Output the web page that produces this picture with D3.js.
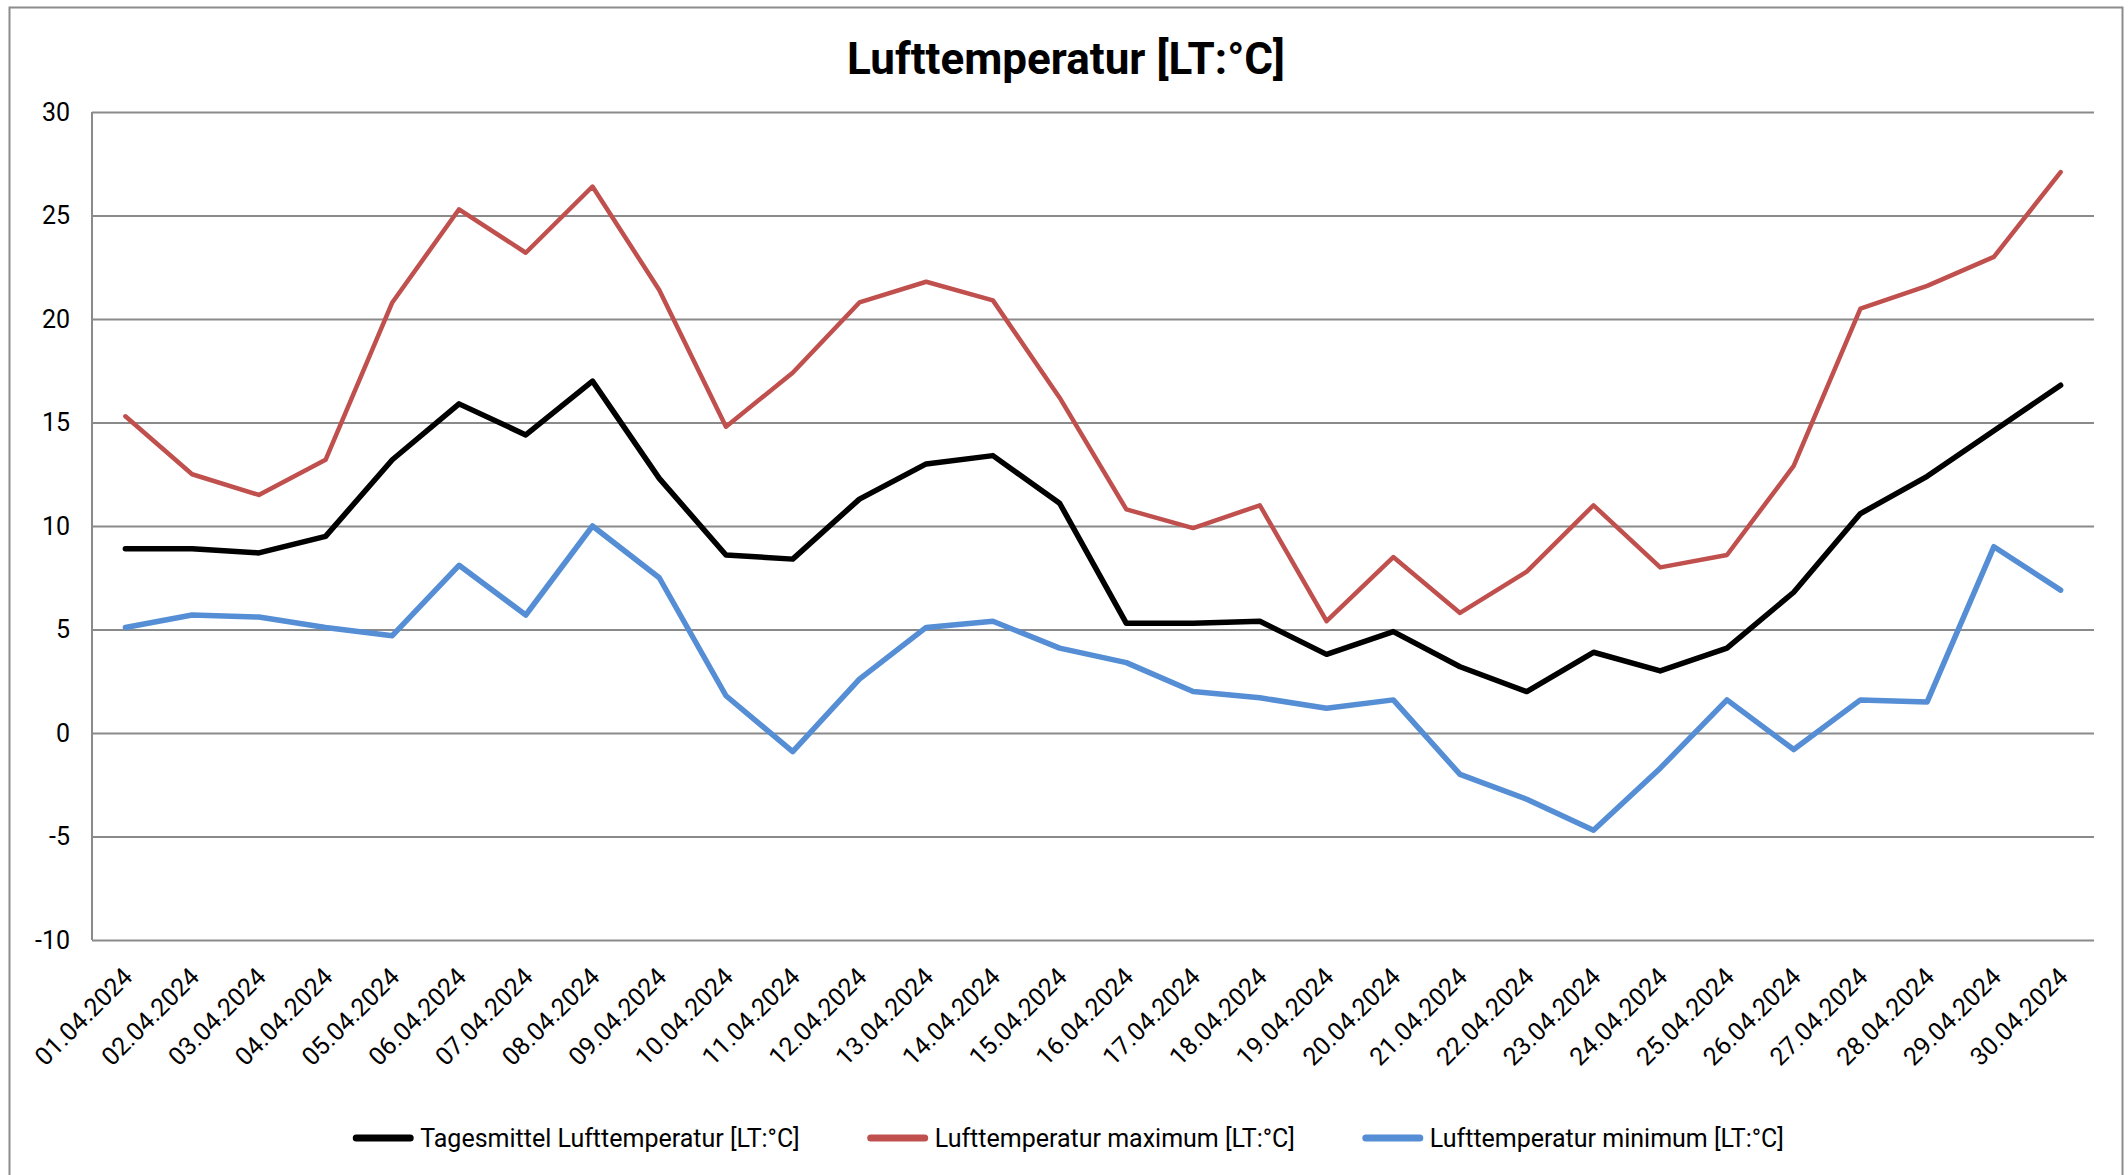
<!DOCTYPE html>
<html>
<head>
<meta charset="utf-8">
<script src="https://cdn.jsdelivr.net/npm/d3@7"></script>
<style>
  body { margin: 0; background: #fff; }
  svg { display: block; font-family: Roboto, "Open Sans", sans-serif; }
</style>
</head>
<body>
<svg width="2128" height="1175"></svg>
<script>
// April 2024, daily values
const dates = ["01.04.2024","02.04.2024","03.04.2024","04.04.2024","05.04.2024","06.04.2024","07.04.2024","08.04.2024","09.04.2024","10.04.2024",
  "11.04.2024","12.04.2024","13.04.2024","14.04.2024","15.04.2024","16.04.2024","17.04.2024","18.04.2024","19.04.2024","20.04.2024",
  "21.04.2024","22.04.2024","23.04.2024","24.04.2024","25.04.2024","26.04.2024","27.04.2024","28.04.2024","29.04.2024","30.04.2024"];

const tagesmittel = [8.9, 8.9, 8.7, 9.5, 13.2, 15.9, 14.4, 17.0, 12.3, 8.6,
  8.4, 11.3, 13.0, 13.4, 11.1, 5.3, 5.3, 5.4, 3.8, 4.9,
  3.2, 2.0, 3.9, 3.0, 4.1, 6.8, 10.6, 12.4, 14.6, 16.8];

const maximum = [15.3, 12.5, 11.5, 13.2, 20.8, 25.3, 23.2, 26.4, 21.4, 14.8,
  17.4, 20.8, 21.8, 20.9, 16.2, 10.8, 9.9, 11.0, 5.4, 8.5,
  5.8, 7.8, 11.0, 8.0, 8.6, 12.9, 20.5, 21.6, 23.0, 27.1];

const minimum = [5.1, 5.7, 5.6, 5.1, 4.7, 8.1, 5.7, 10.0, 7.5, 1.8,
  -0.9, 2.6, 5.1, 5.4, 4.1, 3.4, 2.0, 1.7, 1.2, 1.6,
  -2.0, -3.2, -4.7, -1.7, 1.6, -0.8, 1.6, 1.5, 9.0, 6.9];

const yTicks = [-10, -5, 0, 5, 10, 15, 20, 25, 30];

const seriesNames = ["Tagesmittel Lufttemperatur [LT:°C]", "Lufttemperatur maximum [LT:°C]", "Lufttemperatur minimum [LT:°C]"];
const seriesColors = ["#000000", "#C0504D", "#558ED5"];
const seriesWidths = [5.5, 4.5, 5.5];

const series = [tagesmittel, maximum, minimum].map((vals, i) => ({
  name: seriesNames[i], color: seriesColors[i], width: seriesWidths[i], values: vals
}));

let svg = d3.select("svg");
let margin = {top: 112, right: 34, bottom: 235, left: 92};
let W = +svg.attr("width"), H = +svg.attr("height");
let plotW = W - margin.left - margin.right;   // 92 .. 2094
let plotH = H - margin.top - margin.bottom;   // 112 .. 940
let labelSize = 25;

svg.append("rect").attr("width", W).attr("height", H).attr("fill", "#fff");
// chart frame
svg.append("rect")
  .attr("x", 9.5).attr("y", 7.5)
  .attr("width", 2113).attr("height", 1180)
  .attr("fill", "none").attr("stroke", "#8c8c8c").attr("stroke-width", 2);

svg.append("text")
  .attr("x", 1066).attr("y", 74)
  .attr("text-anchor", "middle")
  .attr("font-size", 44).attr("font-weight", "bold")
  .text("Lufttemperatur [LT:°C]");

let g = svg.append("g").attr("transform", `translate(${margin.left},${margin.top})`);

let x = d3.scalePoint().domain(dates).range([0, plotW]).padding(0.5);
let y = d3.scaleLinear().domain([-10, 30]).range([plotH, 0]);

// horizontal gridlines + y labels
let yAxis = g.append("g")
  .call(d3.axisLeft(y).tickValues(yTicks).tickSize(-plotW).tickPadding(22).tickFormat(d => String(d)));
yAxis.select(".domain").remove();
yAxis.selectAll(".tick line").attr("stroke", "#8a8a8a").attr("stroke-width", 2);
yAxis.selectAll(".tick text").attr("font-size", labelSize).attr("font-family", "Roboto, sans-serif").attr("fill", "#000");

// left axis line
g.append("line")
  .attr("x1", 0).attr("x2", 0).attr("y1", 0).attr("y2", plotH)
  .attr("stroke", "#8a8a8a").attr("stroke-width", 2);

// x labels, rotated
let xAxis = g.append("g")
  .attr("transform", `translate(0,${plotH})`)
  .call(d3.axisBottom(x).tickSize(0).tickPadding(0));
xAxis.select(".domain").remove();
xAxis.selectAll(".tick text")
  .attr("font-size", labelSize).attr("font-family", "Roboto, sans-serif").attr("fill", "#000")
  .attr("text-anchor", "end")
  .attr("dy", "0.35em")
  .attr("transform", "translate(2,32) rotate(-45)");

let line = d3.line()
  .x((d, i) => x(dates[i]))
  .y(d => y(d));

g.selectAll(".series")
  .data(series)
  .enter()
  .append("path")
  .attr("class", "series")
  .attr("d", d => line(d.values))
  .attr("fill", "none")
  .attr("stroke", d => d.color)
  .attr("stroke-width", d => d.width)
  .attr("stroke-linejoin", "round")
  .attr("stroke-linecap", "round");

// legend laid out left to right, then centred
let legend = svg.append("g");
let sampleW = 54, textGap = 10, itemGap = 71, legendY = 1138;
let items = legend.selectAll(".item").data(series).enter().append("g").attr("class", "item");
items.append("line")
  .attr("x1", 0).attr("x2", sampleW).attr("y1", 0).attr("y2", 0)
  .attr("stroke", d => d.color).attr("stroke-width", 7).attr("stroke-linecap", "round");
items.append("text")
  .attr("x", sampleW + textGap).attr("dy", "0.35em")
  .attr("font-size", labelSize)
  .text(d => d.name);

let cursor = 0;
items.each(function () {
  let w = sampleW + textGap + this.querySelector("text").getComputedTextLength();
  d3.select(this).attr("transform", `translate(${cursor},${legendY})`);
  cursor += w + itemGap;
});
let total = cursor - itemGap;
legend.attr("transform", `translate(${1070 - total / 2},0)`);
</script>
</body>
</html>
